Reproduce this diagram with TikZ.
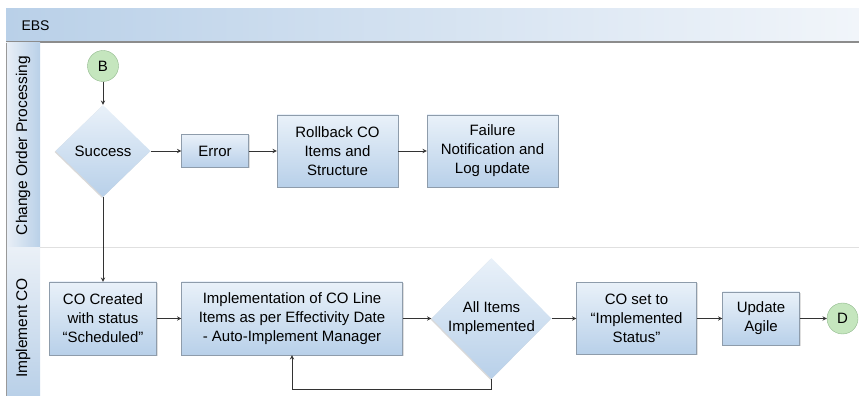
\documentclass[tikz,border=0pt]{standalone}
\usepackage{fontspec}
\setmainfont{Liberation Sans}
\usepackage{xcolor}
\usepackage{tikz}
\usetikzlibrary{shapes.geometric, arrows, shadows}
\definecolor{boxtop}{HTML}{E9F1F9}
\definecolor{boxbot}{HTML}{B8D0E9}
\definecolor{boxline}{HTML}{8E9CAB}
\definecolor{lanecol}{HTML}{B9D0E8}
\definecolor{lanelight}{HTML}{EAF0F7}
\definecolor{hdrright}{HTML}{F1F5FA}
\definecolor{endfill}{HTML}{C5E6BE}
\definecolor{endline}{HTML}{8FB88B}
\tikzstyle{block} = [rectangle, text centered, align=center, draw=boxline, top color=boxtop, bottom color=boxbot, font=\fontsize{15}{19}\selectfont, inner sep=0pt, drop shadow={shadow xshift=1pt, shadow yshift=-1pt, opacity=0.25}]
\tikzstyle{choix} = [diamond, text centered, align=center, draw=none, top color=boxtop, bottom color=boxbot, font=\fontsize{15}{19}\selectfont, inner sep=0pt, drop shadow={shadow xshift=-1pt, shadow yshift=-1pt, opacity=0.3}]
\tikzstyle{terminus} = [circle, minimum size=31pt, inner sep=0pt, draw=endline, fill=endfill, font=\fontsize{15}{18}\selectfont]
\tikzstyle{lanename} = [rotate=90, font=\fontsize{15.5}{18}\selectfont]
\tikzstyle{arrow} = [line width=0.9pt, draw=black!80, ->, >=stealth]

\begin{document}
\begin{tikzpicture}[x=1pt, y=1pt, node distance=120pt]
	\useasboundingbox (0,0) rectangle (859,396);
	% pool and lanes
	\shade [left color=lanecol, right color=hdrright] (6,354) rectangle (859,387);
	\draw [black!45, line width=2pt] (6,354) -- (859,354);
	\shade [left color=lanelight, right color=lanecol] (6,148) rectangle (40,353);
	\shade [top color=lanelight, bottom color=lanecol] (6,0) rectangle (40,148);
	\draw [black!40, line width=0.6pt] (6.5,0) -- (6.5,353);
	\draw [black!12, line width=1pt] (40,148) -- (859,148);
	\node (pool) [anchor=west, font=\fontsize{14}{16}\selectfont] at (18,370) {EBS};
	\node (lane1) [lanename] at (23,250.5) {Change Order Processing};
	\node (lane2) [lanename] at (23,68) {Implement CO};

	\node (B) [terminus] at (103,330) {B};
	\node (succ) [choix, below of=B, yshift=+35pt, minimum width=95pt, minimum height=92pt] {Success};
	\node (err) [block, right of=succ, xshift=-8pt, minimum width=67pt, minimum height=33pt] {Error};
	\node (roll) [block, right of=err, xshift=+2.5pt, minimum width=121pt, minimum height=72pt] {Rollback CO\\Items and\\Structure};
	\node (fail) [block, right of=roll, xshift=+35pt, minimum width=131pt, minimum height=72pt] {Failure\\Notification and\\Log update};
	\node (created) [block, below of=succ, yshift=-47.5pt, minimum width=107pt, minimum height=73pt] {CO Created\\with status\\“Scheduled"};
	\node (impl) [block, right of=created, xshift=+69pt, minimum width=221pt, minimum height=73pt] {Implementation of CO Line\\Items as per Effectivity Date\\- Auto-Implement Manager};
	\node (all) [choix, right of=impl, xshift=+79.5pt, minimum width=120pt, minimum height=121pt] {All Items\\Implemented};
	\node (coset) [block, right of=all, xshift=+25pt, minimum width=120pt, minimum height=72pt] {CO set to\\“Implemented\\Status"};
	\node (agile) [block, right of=coset, xshift=+4.5pt, minimum width=77pt, minimum height=53pt] {Update\\Agile};
	\node (D) [terminus, right of=agile, xshift=-38.5pt] {D};

	\draw [arrow] (B) -- (succ);
	\draw [arrow] (succ) -- (err);
	\draw [arrow] (err) -- (roll);
	\draw [arrow] (roll) -- (fail);
	\draw [arrow] (succ) -- (created);
	\draw [arrow] (created) -- (impl);
	\draw [arrow] (impl) -- (all);
	\draw [arrow] (all) -- (coset);
	\draw [arrow] (coset) -- (agile);
	\draw [arrow] (agile) -- (D);
	\draw [arrow] (all.south) -- ++(0,-10pt) -| (impl.south);
	\end{tikzpicture}
\end{document}
